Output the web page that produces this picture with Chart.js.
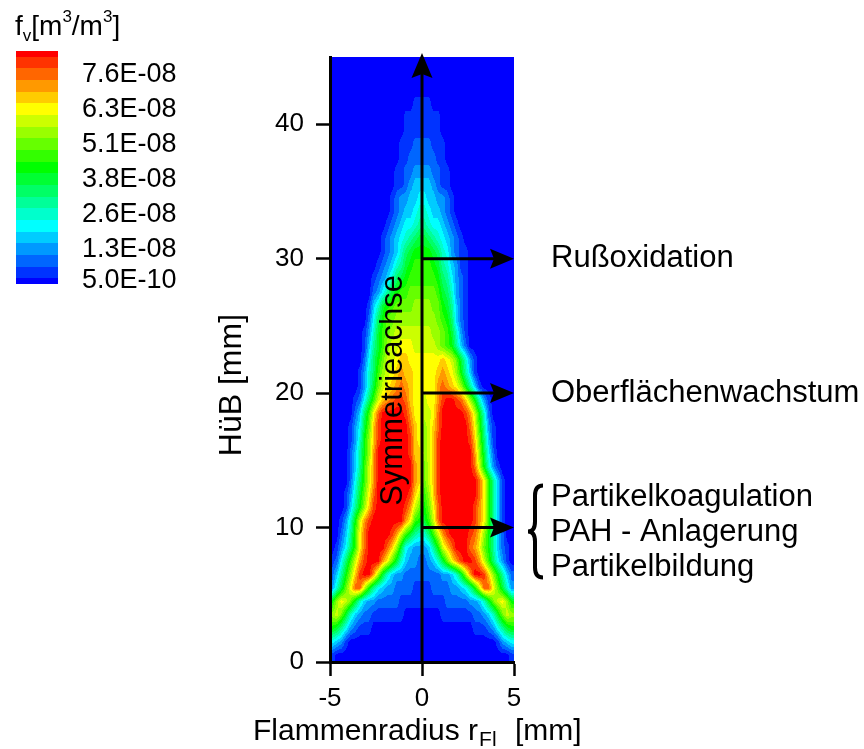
<!DOCTYPE html>
<html>
<head>
<meta charset="utf-8">
<script src="https://cdn.jsdelivr.net/npm/chart.js@4.4.1/dist/chart.umd.min.js"></script>
<style>
  html, body { margin: 0; padding: 0; background: #fff; }
  canvas { display: block; }
</style>
</head>
<body>
<canvas id="flame" width="864" height="749"></canvas>
<script>
// soot volume fraction contour levels f_v [m^3/m^3], lowest to highest
const fvLevels = [5.0e-10, 4.67e-9, 8.84e-9, 1.301e-8, 1.718e-8, 2.135e-8, 2.552e-8,
  2.969e-8, 3.386e-8, 3.803e-8, 4.22e-8, 4.637e-8, 5.054e-8, 5.471e-8, 5.888e-8,
  6.305e-8, 6.722e-8, 7.139e-8, 7.556e-8, 7.973e-8, 8.39e-8];
// levels that get a label on the colour bar
const legendLevels = [18, 15, 12, 9, 6, 3, 0];

// field samples: radius -5..5 mm in 0.25 mm cells, height 45..0 mm in 1 mm rows (top row first)
// one character per cell = contour level index (0-9, a=10 ... k=20)
const rCells = { min: -5, max: 5, step: 0.25 };
const hCells = { min: 0, max: 45, step: 1 };
const fvField = [
  '0000000000000000000000000000000000000000',
  '0000000000000000000000000000000000000000',
  '0000000000000000000000000000000000000000',
  '0000000000000000001111000000000000000000',
  '0000000000000000111111110000000000000000',
  '0000000000000000111111110000000000000000',
  '0000000000000001112222111000000000000000',
  '0000000000000001122222211000000000000000',
  '0000000000000011223333221100000000000000',
  '0000000000000011234444321100000000000000',
  '0000000000000123344554433210000000000000',
  '0000000000000123445665443210000000000000',
  '0000000000001234556776554321000000000000',
  '0000000000012345678998765432100000000000',
  '000000000001234689aaaa986532110000000000',
  '00000000001234679abbbba97643110000000000',
  '0000000001234689abbbbbba8753210000000000',
  '00000000023579abbccccccb9863210000000000',
  '000000001469abccccddddcca974210000000000',
  '00000000258accdddddddddcba84210000000000',
  '00000001369bcdeeeeeeeeddcb96310000000000',
  '00000001479bdeefffeeeeedcba7420000000000',
  '0000000258aceefggfffffffgfec963100000000',
  '0000001368bdefghggfffffghgfda74100000000',
  '0000001369cefghihgfffffhihgfda7410000000',
  '000001258beghijjigffeffhjkkjigda63100000',
  '00000248bfikkkkkjhffeefikkkkkjhea6200000',
  '00001359cgjkkkkkkigfdegikkkkkkifb7310000',
  '0000136adgjkkkkkkjgfdegjkkkkkkjgc8410000',
  '0000247adhkkkkkkkjggdegjkkkkkkkhd9520000',
  '0000247behkkkkkkkkhgcegjkkkkkkkiea631000',
  '0000258behkkkkkkkkhgcegjkkkkkkkkifb74100',
  '0001369cfikkkkkkkjgebdgjkkkkkkkkifb74100',
  '000147adgjkkkkkkjhecacfikkkkkkkjhfb74100',
  '00136aehjkkkkkkkhfba9beikkkkkkkjhfb74100',
  '00247bfikkkkkjheb97668behjkkkkjigda74200',
  '01358bfikkkkigd95433347aegikkkihfca74210',
  '1258behjkkkhfc96433223469cfhjkkjheb85310',
  '247adgjkkhd964332222222233469dhkkjgda742',
  '369cfiiea7543322221111222233457aeiifc963',
  'adfec964332222211111111112222233469cefda',
  'dec9643221111111000000001111111223469ced',
  'a97532111000000000000000000000011123579a',
  '5431000000000000000000000000000000001345',
  '1000000000000000000000000000000000000001'
];

const xTicks = [-5, 0, 5];
const yTicks = [0, 10, 20, 30, 40];
// heights [mm] of the process arrows and their labels
const arrowHeights = [30, 20, 10];
const processLabels = [['Rußoxidation'], ['Oberflächenwachstum'],
  ['Partikelkoagulation', 'PAH - Anlagerung', 'Partikelbildung']];

const FONT = "'Liberation Sans', Arial, sans-serif";

// rainbow map: blue -> cyan -> green -> yellow -> red
function levelColour(k) {
  const t = k / (fvLevels.length - 1) * 4;
  let r, g, b;
  if (t <= 1) { r = 0; g = 255 * t; b = 255; }
  else if (t <= 2) { r = 0; g = 255; b = 255 * (2 - t); }
  else if (t <= 3) { r = 255 * (t - 2); g = 255; b = 0; }
  else { r = 255; g = 255 * (4 - t); b = 0; }
  return [Math.round(r), Math.round(g), Math.round(b)];
}
const palette = fvLevels.map((v, k) => levelColour(k));
const css = c => 'rgb(' + c.join(',') + ')';

function sciLabel(v) {
  const [m, e] = v.toExponential(1).split('e');
  const n = parseInt(e, 10);
  return m + 'E' + (n < 0 ? '-' : '+') + String(Math.abs(n)).padStart(2, '0');
}

function arrowHead(ctx, tx, ty, dx, dy, len, half) {
  const bx = tx - dx * len, by = ty - dy * len;
  ctx.beginPath();
  ctx.moveTo(tx, ty);
  ctx.lineTo(bx - dy * half, by + dx * half);
  ctx.lineTo(bx + dx * 4, by + dy * 4);
  ctx.lineTo(bx + dy * half, by - dx * half);
  ctx.closePath();
  ctx.fill();
}

// filled contours of the sampled field (linear between samples), painted before the axes
const fieldPlugin = {
  id: 'fvField',
  beforeDraw(chart) {
    const { ctx, chartArea: a, scales: { x, y } } = chart;
    const left = Math.round(a.left), top = Math.round(a.top);
    const w = Math.round(a.right) - left, hgt = Math.round(a.bottom) - top;
    const nRows = fvField.length, nCols = fvField[0].length;
    const vals = fvField.map(row => Array.from(row, c => parseInt(c, 36) + 0.5));
    const img = ctx.createImageData(w, hgt);
    const clamp = (v, lo, hi) => Math.max(lo, Math.min(hi, v));
    for (let py = 0; py < hgt; py++) {
      const h = y.getValueForPixel(top + py + 0.5);
      const fr = clamp((hCells.max - h) / hCells.step - 0.5, 0, nRows - 1);
      const i0 = Math.floor(fr), i1 = Math.min(i0 + 1, nRows - 1), ty = fr - i0;
      for (let px = 0; px < w; px++) {
        const r = x.getValueForPixel(left + px + 0.5);
        const fc = clamp((r - rCells.min) / rCells.step - 0.5, 0, nCols - 1);
        const j0 = Math.floor(fc), j1 = Math.min(j0 + 1, nCols - 1), tx = fc - j0;
        const v = (vals[i0][j0] * (1 - tx) + vals[i0][j1] * tx) * (1 - ty) +
                  (vals[i1][j0] * (1 - tx) + vals[i1][j1] * tx) * ty;
        const c = palette[clamp(Math.floor(v), 0, palette.length - 1)];
        const o = (py * w + px) * 4;
        img.data[o] = c[0]; img.data[o + 1] = c[1]; img.data[o + 2] = c[2]; img.data[o + 3] = 255;
      }
    }
    ctx.putImageData(img, left, top);
  }
};

// arrows, texts, axis titles and colour bar
const overlayPlugin = {
  id: 'overlay',
  afterDraw(chart) {
    const { ctx, scales: { x, y } } = chart;
    ctx.save();
    ctx.strokeStyle = '#000';
    ctx.fillStyle = '#000';
    ctx.lineWidth = 3;

    // symmetry axis
    const xa = x.getPixelForValue(0);
    const yTip = y.getPixelForValue(hCells.max) - 4;
    ctx.beginPath();
    ctx.moveTo(xa, y.getPixelForValue(0));
    ctx.lineTo(xa, yTip + 20);
    ctx.stroke();
    arrowHead(ctx, xa, yTip, 0, -1, 25, 10.5);

    // process arrows and labels
    const xEnd = x.getPixelForValue(rCells.max);
    ctx.font = '31px ' + FONT;
    ctx.textBaseline = 'middle';
    ctx.textAlign = 'left';
    arrowHeights.forEach((h, i) => {
      const yy = y.getPixelForValue(h);
      ctx.beginPath();
      ctx.moveTo(xa, yy);
      ctx.lineTo(xEnd - 18, yy);
      ctx.stroke();
      arrowHead(ctx, xEnd, yy, 1, 0, 24, 10);
      const lines = processLabels[i];
      const off = lines.length > 1 ? [-30, 5, 40] : [0];
      lines.forEach((t, k) => ctx.fillText(t, xEnd + 37, yy + off[k]));
      if (lines.length > 1) {
        // curly brace grouping the three steps
        const bx = xEnd + 21, top = yy - 42, bot = yy + 50, mid = yy + 4;
        ctx.lineWidth = 4;
        ctx.beginPath();
        ctx.moveTo(bx + 8, top);
        ctx.quadraticCurveTo(bx, top, bx, top + 10);
        ctx.lineTo(bx, mid - 10);
        ctx.quadraticCurveTo(bx, mid, bx - 7, mid);
        ctx.quadraticCurveTo(bx, mid, bx, mid + 10);
        ctx.lineTo(bx, bot - 10);
        ctx.quadraticCurveTo(bx, bot, bx + 8, bot);
        ctx.stroke();
        ctx.lineWidth = 3;
      }
    });

    // label along the symmetry axis
    ctx.save();
    ctx.translate(xa - 20, y.getPixelForValue(20.2));
    ctx.rotate(-Math.PI / 2);
    ctx.textAlign = 'center';
    ctx.textBaseline = 'alphabetic';
    ctx.font = '31px ' + FONT;
    ctx.fillText('Symmetrieachse', 0, 0);
    ctx.restore();

    // y axis title
    ctx.save();
    ctx.translate(232, y.getPixelForValue(20.6));
    ctx.rotate(-Math.PI / 2);
    ctx.textAlign = 'center';
    ctx.textBaseline = 'middle';
    ctx.font = '32px ' + FONT;
    ctx.fillText('HüB [mm]', 0, 0);
    ctx.restore();

    // x axis title with subscript
    ctx.textBaseline = 'alphabetic';
    ctx.textAlign = 'left';
    let tx = 253;
    const base = 740;
    ctx.font = '30px ' + FONT;
    ctx.fillText('Flammenradius r', tx, base);
    tx += ctx.measureText('Flammenradius r').width + 1;
    ctx.font = '21px ' + FONT;
    ctx.fillText('Fl', tx, base + 6);
    tx += ctx.measureText('Fl').width;
    ctx.font = '30px ' + FONT;
    ctx.fillText(' [mm]', tx + 10, base);

    // colour bar
    const barL = 16, barR = 58, barTop = 51, barBot = 284;
    const n = fvLevels.length - 1;
    const band = (barBot - barTop) / n;
    for (let k = 0; k <= n; k++) {
      let b0 = barBot - band * (k + 0.5), b1 = barBot - band * (k - 0.5);
      b0 = Math.max(b0, barTop); b1 = Math.min(b1, barBot);
      ctx.fillStyle = css(palette[k]);
      ctx.fillRect(barL, Math.round(b0), barR - barL, Math.round(b1) - Math.round(b0));
    }
    ctx.fillStyle = '#000';
    ctx.font = '27px ' + FONT;
    ctx.textBaseline = 'middle';
    legendLevels.forEach(k => {
      const yy = Math.min(barBot - band * k, barBot - 3);
      ctx.fillText(sciLabel(fvLevels[k]), 82, yy);
    });

    // colour bar title f_v[m^3/m^3]
    ctx.textBaseline = 'alphabetic';
    let lx = 15;
    const lb = 35;
    const big = '28px ' + FONT, small = '17px ' + FONT;
    const parts = [['f', big, 0], ['v', small, 6], ['[m', big, 0], ['3', small, -13], ['/m', big, 0], ['3', small, -13], [']', big, 0]];
    parts.forEach(([t, f, dy]) => {
      ctx.font = f;
      ctx.fillText(t, lx, lb + dy);
      lx += ctx.measureText(t).width;
    });
    ctx.restore();
  }
};

new Chart(document.getElementById('flame'), {
  type: 'scatter',
  data: { datasets: [] },
  plugins: [fieldPlugin, overlayPlugin],
  options: {
    responsive: false,
    animation: false,
    layout: { padding: { left: 200, right: 350, top: 57, bottom: 0 } },
    plugins: { legend: { display: false }, tooltip: { enabled: false } },
    scales: {
      x: {
        type: 'linear',
        min: rCells.min,
        max: rCells.max,
        afterBuildTicks: s => { s.ticks = xTicks.map(v => ({ value: v })); },
        afterFit: s => { s.height = 87; },
        ticks: { color: '#000', font: { family: FONT, size: 26 }, padding: 7 },
        grid: { drawOnChartArea: false, drawTicks: true, tickLength: 14, tickWidth: 2.5, tickColor: '#000' },
        border: { display: true, color: '#000', width: 3 }
      },
      y: {
        type: 'linear',
        min: hCells.min,
        max: hCells.max,
        afterBuildTicks: s => { s.ticks = yTicks.map(v => ({ value: v })); },
        afterFit: s => { s.width = 130; },
        ticks: { color: '#000', font: { family: FONT, size: 26 }, padding: 12 },
        grid: { drawOnChartArea: false, drawTicks: true, tickLength: 14, tickWidth: 2.5, tickColor: '#000' },
        border: { display: true, color: '#000', width: 3 }
      }
    }
  }
});
</script>
</body>
</html>
